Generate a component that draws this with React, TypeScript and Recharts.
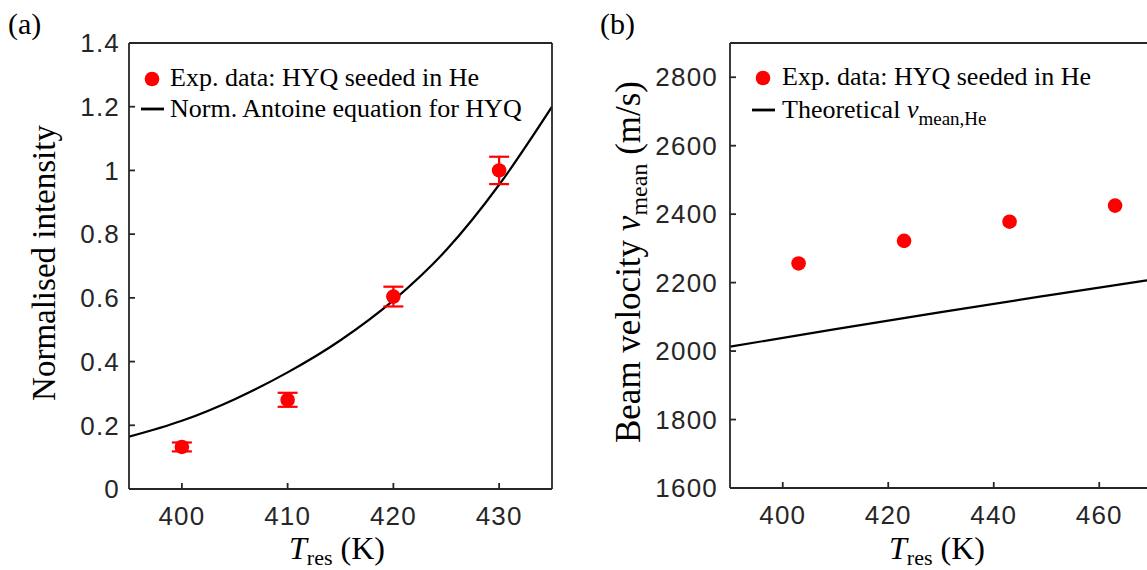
import React from 'react';
import { ComposedChart, Scatter, Line, XAxis, YAxis, ErrorBar } from 'recharts';

// Panel (a)
const tempA = [400, 410, 420, 430];
const intensityA = [0.132, 0.28, 0.604, 1.0];
const intensityErrA = [0.014, 0.022, 0.031, 0.043];
const antoineT = [395, 400, 405, 410, 415, 420, 425, 430, 435];
const antoineI = [0.164, 0.214, 0.282, 0.366, 0.467, 0.592, 0.75, 0.955, 1.2];
const xTicksA = [400, 410, 420, 430];
const yTicksA = [0, 0.2, 0.4, 0.6, 0.8, 1, 1.2, 1.4];

// Panel (b)
const tempB = [403, 423, 443, 463];
const velocityB = [2256, 2322, 2378, 2425];
const theoryT = [390, 410, 430, 450, 470];
const theoryV = [2013, 2064, 2114, 2162, 2209];
const xTicksB = [400, 420, 440, 460];
const yTicksB = [1600, 1800, 2000, 2200, 2400, 2600, 2800];

const pointsA = tempA.map((t, i) => ({ t, v: intensityA[i], err: intensityErrA[i] }));
const curveA = antoineT.map((t, i) => ({ t, v: antoineI[i] }));
const pointsB = tempB.map((t, i) => ({ t, v: velocityB[i] }));
const curveB = theoryT.map((t, i) => ({ t, v: theoryV[i] }));

const AX = '#262626';
const RED = '#ff0000';
const SANS = 'Liberation Sans, Arial, sans-serif';
const SERIF = 'Liberation Serif, Times New Roman, serif';

const tickStyle = { fill: AX, fontSize: 26, fontFamily: SANS, letterSpacing: 1.2 };
const lineStyle = { stroke: AX, strokeWidth: 1.8 };

const Dot = (p: any) => <circle cx={p.cx} cy={p.cy} r={7.3} fill={RED} />;

export default function App() {
  return (
    <div style={{ position: 'absolute', left: 0, top: 0, width: 1147, height: 570, overflow: 'hidden', background: '#fff' }}>
      <div style={{ position: 'absolute', left: 0, top: 0 }}>
        <ComposedChart width={580} height={570} margin={{ top: 42, right: 27, bottom: 41, left: 69 }}>
          <XAxis xAxisId="b" dataKey="t" type="number" domain={[395, 435]} ticks={xTicksA} interval={0}
            allowDataOverflow height={40} tickSize={-6} tickMargin={24} tick={tickStyle}
            axisLine={lineStyle} tickLine={lineStyle} />
          <XAxis xAxisId="top" orientation="top" dataKey="t" type="number" domain={[395, 435]} ticks={xTicksA} interval={0}
            allowDataOverflow height={1} tickSize={-6} tick={false} axisLine={lineStyle} tickLine={lineStyle} />
          <YAxis yAxisId="l" type="number" domain={[0, 1.4]} ticks={yTicksA} interval={0} allowDataOverflow
            width={60} tickSize={-6} tickMargin={15} tick={tickStyle} axisLine={lineStyle} tickLine={lineStyle} />
          <YAxis yAxisId="r" orientation="right" type="number" domain={[0, 1.4]} ticks={yTicksA} interval={0} allowDataOverflow
            width={1} tickSize={-6} tick={false} axisLine={lineStyle} tickLine={lineStyle} />
          <Line xAxisId="b" yAxisId="l" data={curveA} dataKey="v" type="monotone" stroke="#000" strokeWidth={2.2}
            dot={false} isAnimationActive={false} />
          <Scatter xAxisId="b" yAxisId="l" data={pointsA} dataKey="v" shape={Dot} isAnimationActive={false}>
            <ErrorBar dataKey="err" direction="y" width={10} stroke={RED} strokeWidth={2.2} isAnimationActive={false} />
          </Scatter>
        </ComposedChart>
      </div>
      <div style={{ position: 'absolute', left: 590, top: 0 }}>
        <ComposedChart width={600} height={570} margin={{ top: 42, right: 37, bottom: 42, left: 70 }}>
          <XAxis xAxisId="b" dataKey="t" type="number" domain={[390, 470]} ticks={xTicksB} interval={0}
            allowDataOverflow height={40} tickSize={-6} tickMargin={24} tick={tickStyle}
            axisLine={lineStyle} tickLine={lineStyle} />
          <XAxis xAxisId="top" orientation="top" dataKey="t" type="number" domain={[390, 470]} ticks={xTicksB} interval={0}
            allowDataOverflow height={1} tickSize={-6} tick={false} axisLine={lineStyle} tickLine={lineStyle} />
          <YAxis yAxisId="l" type="number" domain={[1600, 2900]} ticks={yTicksB} interval={0} allowDataOverflow
            width={70} tickSize={-6} tickMargin={18} tick={tickStyle} axisLine={lineStyle} tickLine={lineStyle} />
          <YAxis yAxisId="r" orientation="right" type="number" domain={[1600, 2900]} ticks={yTicksB} interval={0} allowDataOverflow
            width={1} tickSize={-6} tick={false} axisLine={lineStyle} tickLine={lineStyle} />
          <Line xAxisId="b" yAxisId="l" data={curveB} dataKey="v" type="monotone" stroke="#000" strokeWidth={2.2}
            dot={false} isAnimationActive={false} />
          <Scatter xAxisId="b" yAxisId="l" data={pointsB} dataKey="v" shape={Dot} isAnimationActive={false} />
        </ComposedChart>
      </div>
      <svg width={1147} height={570} style={{ position: 'absolute', left: 0, top: 0, pointerEvents: 'none' }}>
        <g fontFamily={SERIF} fill="#000">
          <text x={8} y={34} fontSize={30}>(a)</text>
          <text x={600} y={34} fontSize={30}>(b)</text>

          <text transform="translate(55,263) rotate(-90)" textAnchor="middle" fontSize={33}>Normalised intensity</text>
          <text x={337} y={559} textAnchor="middle" fontSize={32}>
            <tspan fontStyle="italic">T</tspan><tspan fontSize={22} dy={6}>res</tspan><tspan dy={-6}> (K)</tspan>
          </text>

          <text transform="translate(640,262) rotate(-90)" textAnchor="middle" fontSize={35}>
            Beam velocity <tspan fontStyle="italic">v</tspan><tspan fontSize={24} dy={7}>mean</tspan><tspan dy={-7}> (m/s)</tspan>
          </text>
          <text x={937} y={559} textAnchor="middle" fontSize={32}>
            <tspan fontStyle="italic">T</tspan><tspan fontSize={22} dy={6}>res</tspan><tspan dy={-6}> (K)</tspan>
          </text>

          <circle cx={152} cy={79} r={7.3} fill={RED} />
          <text x={170} y={86} fontSize={26}>Exp. data: HYQ seeded in He</text>
          <line x1={141} x2={164} y1={109} y2={109} stroke="#000" strokeWidth={2.8} />
          <text x={170} y={117} fontSize={26}>Norm. Antoine equation for HYQ</text>

          <circle cx={763} cy={78} r={7.3} fill={RED} />
          <text x={782} y={85} fontSize={26}>Exp. data: HYQ seeded in He</text>
          <line x1={752} x2={775} y1={110} y2={110} stroke="#000" strokeWidth={2.8} />
          <text x={782} y={118} fontSize={26}>
            Theoretical <tspan fontStyle="italic">v</tspan><tspan fontSize={19} dy={7}>mean,He</tspan>
          </text>
        </g>
      </svg>
    </div>
  );
}
